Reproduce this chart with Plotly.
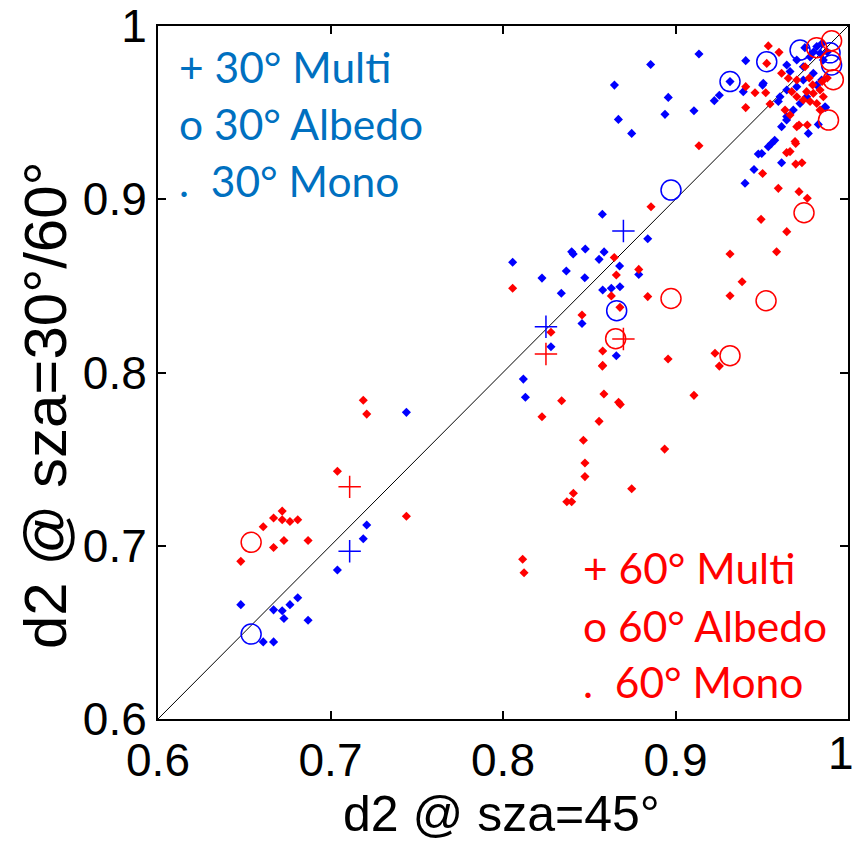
import plotly.graph_objects as go

# ---------------- data ----------------
mono30_x = [0.648, 0.667, 0.672, 0.673, 0.6765, 0.681, 0.687, 0.661, 0.667, 0.704, 0.719, 0.721, 0.744,
            0.8118, 0.813, 0.8056, 0.8226, 0.8278, 0.8338, 0.8367, 0.8398, 0.8407, 0.8458, 0.8474, 0.8477,
            0.8557, 0.8576, 0.8578, 0.8586, 0.8628, 0.8657, 0.8676, 0.8678, 0.8787, 0.8839,
            0.8646, 0.8669, 0.8746, 0.8856, 0.8939, 0.8958, 0.9107, 0.9136, 0.9225, 0.9254, 0.9316, 0.9393,
            0.9403, 0.9407, 0.9455, 0.948, 0.95, 0.9505, 0.9509, 0.9538, 0.9555, 0.9575, 0.9615, 0.9615,
            0.9644, 0.9645, 0.9664, 0.9703, 0.9741, 0.978, 0.9819, 0.9838, 0.9857, 0.9799, 0.9741, 0.9703,
            0.9645, 0.9606, 0.9847, 0.9819, 0.976, 0.9722, 0.9683, 0.9645, 0.9596, 0.9867, 0.977, 0.9828,
            0.987, 0.975, 0.980, 0.985, 0.988]
mono30_y = [0.666, 0.663, 0.6625, 0.658, 0.666, 0.670, 0.657, 0.6445, 0.6445, 0.686, 0.704, 0.712, 0.777,
            0.7962, 0.7857, 0.8636, 0.8545, 0.8149, 0.8457, 0.8586, 0.8697, 0.8684, 0.8283, 0.8547, 0.8713,
            0.8653, 0.8913, 0.8476, 0.8696, 0.8486, 0.8097, 0.8615, 0.8495, 0.8566, 0.8772,
            0.9659, 0.9461, 0.938, 0.9778, 0.949, 0.9588, 0.9511, 0.9838, 0.9569, 0.960, 0.9679, 0.9621,
            0.9092, 0.980, 0.9172, 0.9261, 0.9264, 0.9659, 0.9669, 0.9303, 0.932, 0.934, 0.9211, 0.9419,
            0.9457, 0.9775, 0.9737, 0.9804, 0.9765, 0.9822, 0.9881, 0.9842, 0.9804, 0.9727, 0.9688, 0.965,
            0.9631, 0.9592, 0.9688, 0.9659, 0.9592, 0.9553, 0.9515, 0.9477, 0.9564, 0.9534, 0.938, 0.9432,
            0.953, 0.9875, 0.985, 0.990, 0.985]

mono60_x = [0.719, 0.721, 0.704, 0.672, 0.667, 0.672, 0.6765, 0.681, 0.661, 0.667, 0.673, 0.687, 0.648, 0.744,
            0.8114, 0.8122, 0.8576, 0.8585, 0.834, 0.8226, 0.867, 0.868, 0.8557, 0.8466, 0.8475, 0.8475,
            0.8746, 0.8408, 0.837, 0.8398, 0.8937, 0.9107, 0.9254, 0.8957, 0.9229, 0.8578, 0.8578, 0.8278,
            0.8458, 0.8678, 0.8628, 0.8839, 0.8056, 0.8657, 0.8787, 0.8645, 0.8858, 0.9316, 0.9386, 0.9316,
            0.9136, 0.9596, 0.9716, 0.9764, 0.9496, 0.9645, 0.9586, 0.9538, 0.960, 0.9529, 0.9407, 0.9461,
            0.9523, 0.9407, 0.9548, 0.9644, 0.9697, 0.9505, 0.9733, 0.9697, 0.9764, 0.9716, 0.9615, 0.9654,
            0.9703, 0.9751, 0.9674, 0.976, 0.9799, 0.9838, 0.9857, 0.9741, 0.978, 0.9819, 0.9703, 0.9838,
            0.9635, 0.9664, 0.9703, 0.9693, 0.9664, 0.9795, 0.985, 0.988, 0.9775]
mono60_y = [0.784, 0.776, 0.743, 0.720, 0.716, 0.715, 0.714, 0.715, 0.711, 0.699, 0.703, 0.703, 0.691, 0.717,
            0.6922, 0.6844, 0.8037, 0.7876, 0.7837, 0.7745, 0.7828, 0.7816, 0.7718, 0.7609, 0.7478, 0.7399,
            0.7329, 0.7303, 0.7254, 0.7254, 0.7558, 0.7868, 0.8037, 0.8078, 0.8111, 0.8124, 0.8041, 0.8232,
            0.8332, 0.8376, 0.8442, 0.8438, 0.8486, 0.8563, 0.8595, 0.8664, 0.8957, 0.8684, 0.8524, 0.8443,
            0.9309, 0.9063, 0.9044, 0.9006, 0.8884, 0.8813, 0.8697, 0.9885, 0.9848, 0.9784, 0.965, 0.9615,
            0.9615, 0.9529, 0.955, 0.9269, 0.9203, 0.9149, 0.9211, 0.9322, 0.9429, 0.9429, 0.9727, 0.9698,
            0.9688, 0.9765, 0.9621, 0.9621, 0.9611, 0.9631, 0.9592, 0.9573, 0.9564, 0.9553, 0.9592, 0.9515,
            0.9515, 0.9486, 0.9419, 0.9333, 0.9275, 0.966, 0.968, 0.970, 0.970]

albedo30_x = [0.654, 0.8659, 0.8974, 0.9316, 0.9529, 0.9722, 0.9896, 0.9905]
albedo30_y = [0.649, 0.8357, 0.9053, 0.9679, 0.9794, 0.9861, 0.9845, 0.9775]

albedo60_x = [0.654, 0.8653, 0.8974, 0.9316, 0.9525, 0.9745, 0.9887, 0.9915, 0.9900, 0.9905, 0.9818]
albedo60_y = [0.702, 0.8195, 0.8427, 0.8097, 0.8414, 0.8922, 0.9457, 0.9690, 0.9800, 0.9915, 0.9875]

multi30_x = [0.7111, 0.8249, 0.8698]
multi30_y = [0.6968, 0.8264, 0.8817]
multi60_x = [0.7111, 0.8249, 0.8698]
multi60_y = [0.734, 0.8107, 0.8193]

diag = [0.6, 1.0]
tick_vals = [0.6, 0.7, 0.8, 0.9, 1.0]
tick_text = ["0.6", "0.7", "0.8", "0.9", "1"]

legend30 = ["+ 30° Multi", "o 30° Albedo", ".\u00a0\u00a030° Mono"]
legend60 = ["+ 60° Multi", "o 60° Albedo", ".\u00a0\u00a060° Mono"]

BLUE = "#0000FF"
RED = "#FF0000"
TXT_FONT = "Liberation Sans, Arial"

# plot-area pixel geometry (used only to place text annotations)
L, R, T, B = 158, 848, 26, 719
W, H = 854, 842


def px_to_paper_x(px):
    return (px - L) / (R - L)


def px_to_paper_y(py):
    return (B - py) / (B - T)


fig = go.Figure()
fig.add_trace(go.Scatter(x=diag, y=diag, mode="lines", line=dict(color="black", width=1), hoverinfo="skip"))

fig.add_trace(go.Scatter(x=mono30_x, y=mono30_y, mode="markers",
                         marker=dict(symbol="diamond", size=7, color=BLUE, line=dict(width=0))))
fig.add_trace(go.Scatter(x=mono60_x, y=mono60_y, mode="markers",
                         marker=dict(symbol="diamond", size=7, color=RED, line=dict(width=0))))
fig.add_trace(go.Scatter(x=albedo30_x, y=albedo30_y, mode="markers",
                         marker=dict(symbol="circle-open", size=20, color=BLUE, line=dict(width=1.5, color=BLUE))))
fig.add_trace(go.Scatter(x=albedo60_x, y=albedo60_y, mode="markers",
                         marker=dict(symbol="circle-open", size=20, color=RED, line=dict(width=1.5, color=RED))))
fig.add_trace(go.Scatter(x=multi30_x, y=multi30_y, mode="markers",
                         marker=dict(symbol="cross-thin-open", size=16, color=BLUE, line=dict(width=1.5, color=BLUE))))
fig.add_trace(go.Scatter(x=multi60_x, y=multi60_y, mode="markers",
                         marker=dict(symbol="cross-thin-open", size=16, color=RED, line=dict(width=1.5, color=RED))))

axis_common = dict(range=[0.6, 1.0], ticks="inside", ticklen=8,
                   tickwidth=2, tickcolor="black", showline=True, linewidth=2, linecolor="black",
                   mirror="ticks", showgrid=False, zeroline=False, automargin=False,
                   tickfont=dict(family=TXT_FONT, size=46, color="black"))
# x labels except the last are drawn by the axis; "1" is placed as annotation so it is not dropped
fig.update_xaxes(tickvals=tick_vals, ticktext=tick_text[:-1] + [""], **axis_common)
fig.update_yaxes(tickvals=tick_vals, ticktext=tick_text, **axis_common)

annotations = []
annotations.append(dict(text=tick_text[-1], xref="paper", yref="paper", x=px_to_paper_x(856), y=px_to_paper_y(719),
                        xanchor="right", yanchor="top", yshift=-6, showarrow=False,
                        font=dict(family=TXT_FONT, size=46, color="black")))
# axis titles
annotations.append(dict(text="d2 @ sza=45°", xref="paper", yref="paper", x=px_to_paper_x(501), y=px_to_paper_y(814),
                        xanchor="center", yanchor="middle", showarrow=False,
                        font=dict(family=TXT_FONT, size=50, color="black")))
annotations.append(dict(text="d2 @ sza=30°/60°", xref="paper", yref="paper", x=px_to_paper_x(45), y=px_to_paper_y(405),
                        xanchor="center", yanchor="middle", showarrow=False, textangle=-90,
                        font=dict(family=TXT_FONT, size=60, color="black")))
# legend texts
for t, py in zip(legend30, [66, 123, 180]):
    annotations.append(dict(text=t, xref="paper", yref="paper", x=px_to_paper_x(177), y=px_to_paper_y(py),
                            xanchor="left", yanchor="middle", showarrow=False,
                            font=dict(family="Lato", size=42.5, color="#0070C0")))
for t, py in zip(legend60, [567, 625, 681]):
    annotations.append(dict(text=t, xref="paper", yref="paper", x=px_to_paper_x(581), y=px_to_paper_y(py),
                            xanchor="left", yanchor="middle", showarrow=False,
                            font=dict(family="Lato", size=42.5, color=RED)))

fig.update_layout(width=W, height=H, margin=dict(l=L, r=W - R, t=T, b=H - B),
                  plot_bgcolor="white", paper_bgcolor="white", showlegend=False,
                  annotations=annotations)

fig.write_html("out.html", config={"displayModeBar": False},
               post_script="document.body.style.margin='0';document.body.style.overflow='hidden';")
